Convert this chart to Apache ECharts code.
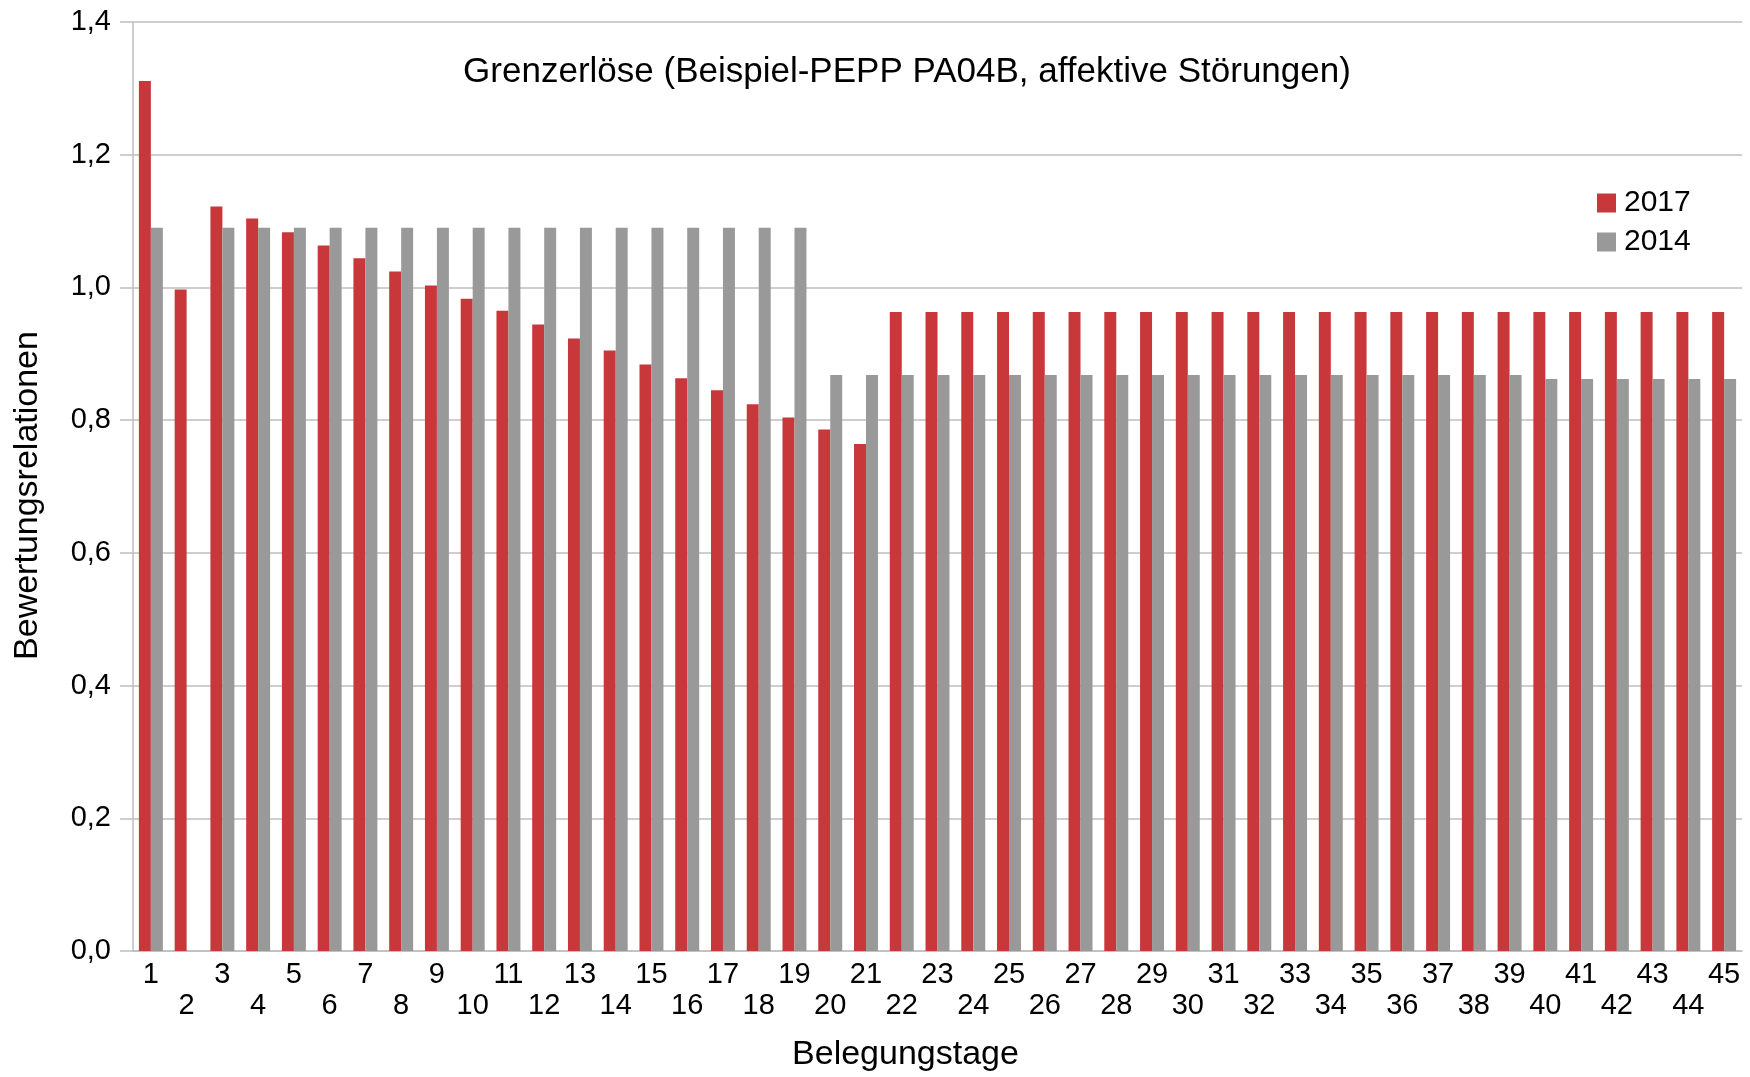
<!DOCTYPE html>
<html>
<head>
<meta charset="utf-8">
<script src="https://cdn.jsdelivr.net/npm/echarts@6/dist/echarts.min.js"></script>
<style>
  html, body { margin: 0; padding: 0; background: #ffffff; }
  #chart { width: 1750px; height: 1077px; }
</style>
</head>
<body>
<div id="chart"></div>
<script>
const categories = ['1','2','3','4','5','6','7','8','9','10','11','12','13','14','15',
  '16','17','18','19','20','21','22','23','24','25','26','27','28','29','30',
  '31','32','33','34','35','36','37','38','39','40','41','42','43','44','45'];

const values2017 = [1.311, 0.997, 1.122, 1.104, 1.083, 1.063, 1.044, 1.024, 1.003, 0.983,
  0.965, 0.944, 0.923, 0.905, 0.884, 0.863, 0.845, 0.824, 0.804, 0.786,
  0.764, 0.963, 0.963, 0.963, 0.963, 0.963, 0.963, 0.963, 0.963, 0.963,
  0.963, 0.963, 0.963, 0.963, 0.963, 0.963, 0.963, 0.963, 0.963, 0.963,
  0.963, 0.963, 0.963, 0.963, 0.963];

const values2014 = [1.090, null, 1.090, 1.090, 1.090, 1.090, 1.090, 1.090, 1.090, 1.090,
  1.090, 1.090, 1.090, 1.090, 1.090, 1.090, 1.090, 1.090, 1.090, 0.868,
  0.868, 0.868, 0.868, 0.868, 0.868, 0.868, 0.868, 0.868, 0.868, 0.868,
  0.868, 0.868, 0.868, 0.868, 0.868, 0.868, 0.868, 0.868, 0.868, 0.862,
  0.862, 0.862, 0.862, 0.862, 0.862];

const seriesNames = ['2017', '2014'];
const titleText = 'Grenzerlöse (Beispiel-PEPP PA04B, affektive Störungen)';
const xAxisName = 'Belegungstage';
const yAxisName = 'Bewertungsrelationen';

const FONT = "'Liberation Sans', Arial, Helvetica, sans-serif";
const GRID_COLOR = '#bebebe';

const chart = echarts.init(document.getElementById('chart'), null, { renderer: 'canvas' });

chart.setOption({
  backgroundColor: '#ffffff',
  animation: false,
  textStyle: { fontFamily: FONT, color: '#000' },
  title: {
    text: titleText,
    left: 902,
    textAlign: 'center',
    top: 50,
    textStyle: { fontFamily: FONT, fontSize: 35, fontWeight: 'normal', color: '#000' }
  },
  legend: {
    data: seriesNames,
    orient: 'vertical',
    left: 1597,
    top: 188,
    padding: 0,
    icon: 'rect',
    itemWidth: 19,
    itemHeight: 19,
    itemGap: 9,
    textStyle: { fontFamily: FONT, fontSize: 30, lineHeight: 30, color: '#000', padding: [0, 0, 0, 3] }
  },
  grid: { left: 133, right: 8, top: 22, bottom: 124, containLabel: false },
  xAxis: {
    type: 'category',
    data: categories,
    boundaryGap: true,
    name: xAxisName,
    nameLocation: 'middle',
    nameGap: 87,
    nameTextStyle: { fontFamily: FONT, fontSize: 34, color: '#000', padding: [0, 64, 0, 0] },
    axisLine: { show: true, lineStyle: { color: GRID_COLOR, width: 1.5 } },
    axisTick: { show: false },
    axisLabel: {
      interval: 0,
      margin: 9,
      fontFamily: FONT,
      fontSize: 29,
      lineHeight: 30.5,
      color: '#000',
      formatter: function (value, index) { return index % 2 === 0 ? value : '\n' + value; }
    },
    splitLine: { show: false }
  },
  yAxis: {
    type: 'value',
    min: 0,
    max: 1.4,
    interval: 0.2,
    name: yAxisName,
    nameLocation: 'middle',
    nameGap: 88,
    nameTextStyle: { fontFamily: FONT, fontSize: 34, color: '#000', padding: [0, 18, 0, 0] },
    axisLine: { show: true, lineStyle: { color: GRID_COLOR, width: 1.5 } },
    axisTick: { show: true, length: 13, lineStyle: { color: GRID_COLOR, width: 1.5 } },
    axisLabel: {
      margin: 22,
      fontFamily: FONT,
      fontSize: 29,
      color: '#000',
      formatter: function (v) { return v.toFixed(1).replace('.', ','); }
    },
    splitLine: { show: true, lineStyle: { color: GRID_COLOR, width: 1.5 } }
  },
  series: [
    {
      name: seriesNames[0],
      type: 'bar',
      data: values2017,
      barGap: '0%',
      barCategoryGap: '33%',
      itemStyle: { color: '#c8373a' }
    },
    {
      name: seriesNames[1],
      type: 'bar',
      data: values2014,
      barGap: '0%',
      barCategoryGap: '33%',
      itemStyle: { color: '#999999' }
    }
  ]
});
</script>
</body>
</html>
